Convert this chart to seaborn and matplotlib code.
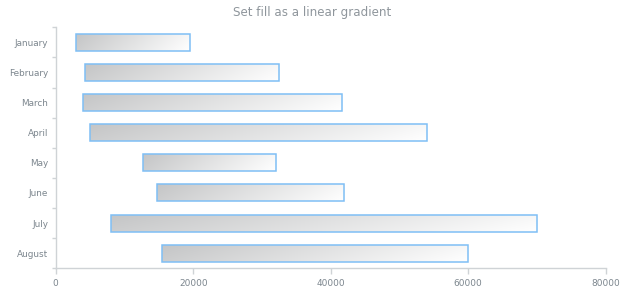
import numpy as np
import pandas as pd
import matplotlib
matplotlib.use("Agg")
import matplotlib.pyplot as plt
from matplotlib.colors import LinearSegmentedColormap
import seaborn as sns

# Monthly ranges (low / high)
months = ["January", "February", "March", "April", "May", "June", "July", "August"]
low_values = [3000, 4200, 4000, 5000, 12700, 14800, 8000, 15500]
high_values = [19500, 32500, 41600, 54000, 32000, 42000, 70000, 60000]
x_ticks = [0, 20000, 40000, 60000, 80000]

df = pd.DataFrame({"month": months, "low": low_values, "high": high_values})

sns.set_theme(style="white")
plt.rcParams["font.family"] = ["DejaVu Sans"]

text_color = "#7c868e"
title_color = "#8f969c"
axis_color = "#cfd3d6"
edge_color = "#7fbff5"

fig = plt.figure(figsize=(6.2, 3.0), dpi=100)
ax = fig.add_axes([0.0898, 0.106, 0.8871, 0.8027])

sns.barplot(data=df, x="high", y="month", orient="h", width=0.565,
            color="white", ax=ax)

# Turn each bar into a low..high range, fill it with a diagonal gradient
cmap = LinearSegmentedColormap.from_list("grayfade", ["#c4c5c6", "#ffffff"])
gx, gy = np.meshgrid(np.linspace(0, 1, 256), np.linspace(0, 1, 32))
grad = gx * 0.85 + gy * 0.15
for patch, lo, hi in zip(ax.patches, df["low"], df["high"]):
    patch.set_x(lo)
    patch.set_width(hi - lo)
    patch.set_facecolor("none")
    patch.set_edgecolor(edge_color)
    patch.set_linewidth(1.1)
    patch.set_zorder(3)
    y0 = patch.get_y()
    h = patch.get_height()
    im = ax.imshow(grad, cmap=cmap, aspect="auto", interpolation="bilinear",
                   extent=(lo, hi, y0 + h, y0), zorder=2)
    im.set_clip_path(patch)

ax.set_xlim(0, 80000)
ax.set_ylim(len(months) - 0.5, -0.5)
ax.set_xticks(x_ticks)
ax.set_xticklabels([str(v) for v in x_ticks])
ax.set_yticks(range(len(months)))
ax.set_yticklabels(months)
ax.set_yticks(np.arange(-0.5, len(months), 1.0), minor=True)
ax.set_xlabel("")
ax.set_ylabel("")

for side in ["top", "right"]:
    ax.spines[side].set_visible(False)
for side in ["left", "bottom"]:
    ax.spines[side].set_color(axis_color)
    ax.spines[side].set_linewidth(1.0)

ax.tick_params(axis="x", which="major", length=4, width=1, color=axis_color,
               labelsize=6.5, labelcolor=text_color, pad=4, bottom=True)
ax.tick_params(axis="y", which="major", length=0, labelsize=6.4,
               labelcolor=text_color, pad=5.5)
ax.tick_params(axis="y", which="minor", length=3, width=1, color=axis_color,
               left=True)

fig.suptitle("Set fill as a linear gradient", x=0.503, y=0.98,
             fontsize=8.6, color=title_color, va="top")

fig.savefig("out.png", dpi=100, facecolor="white")
